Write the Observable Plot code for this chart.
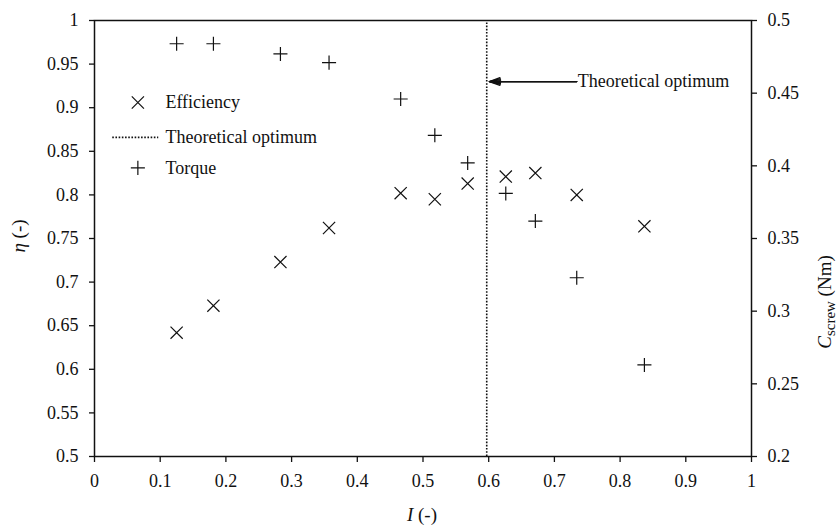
<!DOCTYPE html>
<html><head><meta charset="utf-8">
<script src="https://cdn.jsdelivr.net/npm/d3@7"></script>
<script src="https://cdn.jsdelivr.net/npm/@observablehq/plot@0.6"></script>
<style>body{margin:0;background:#fff}</style>
</head><body><div id="chart"></div>
<script>
// Data
const tipRatio   = [0.125, 0.181, 0.283, 0.357, 0.466, 0.518, 0.568, 0.626, 0.671, 0.734, 0.837];
const efficiency = [0.642, 0.673, 0.723, 0.762, 0.802, 0.795, 0.813, 0.821, 0.825, 0.800, 0.764];
const torque     = [0.484, 0.484, 0.477, 0.471, 0.446, 0.421, 0.402, 0.381, 0.362, 0.323, 0.263];
const optimumX = 0.597;

// Tick values
const xTicks = [0, 0.1, 0.2, 0.3, 0.4, 0.5, 0.6, 0.7, 0.8, 0.9, 1];
const etaTicks = [0.5, 0.55, 0.6, 0.65, 0.7, 0.75, 0.8, 0.85, 0.9, 0.95, 1];
const torqueTicks = [0.2, 0.25, 0.3, 0.35, 0.4, 0.45, 0.5];
const etaDomain = [0.5, 1];
const torqueDomain = [0.2, 0.5];

// Legend / annotation
const legendLabels = ["Efficiency", "Theoretical optimum", "Torque"];
const legendY = [0.906, 0.866, 0.831];
const legendSymbolX = 0.066, legendTextX = 0.108, legendLineX = [0.027, 0.097];
const annotation = {text: "Theoretical optimum", x1: 0.734, x2: 0.601, y: 0.930};
const arrowHeadAngles = [40, 30, 20, 10];

const toEta = c => etaDomain[0] + (c - torqueDomain[0]) / (torqueDomain[1] - torqueDomain[0]) * (etaDomain[1] - etaDomain[0]);
const fromEta = e => torqueDomain[0] + (e - etaDomain[0]) / (etaDomain[1] - etaDomain[0]) * (torqueDomain[1] - torqueDomain[0]);
const fmt = v => String(+v.toFixed(3));

const effData = tipRatio.map((x, i) => ({x, y: efficiency[i]}));
const torData = tipRatio.map((x, i) => ({x, y: toEta(torque[i])}));

const ink = "#111";
const font = "'Liberation Serif', 'Times New Roman', serif";

const plot = Plot.plot({
  width: 838, height: 528,
  marginLeft: 94, marginRight: 87, marginTop: 20, marginBottom: 72,
  style: {fontFamily: font, fontSize: "18px", color: ink, background: "#fff"},
  x: {domain: [0, 1]},
  y: {domain: etaDomain},
  marks: [
    Plot.ruleX([optimumX], {y1: etaDomain[0], y2: etaDomain[1], stroke: ink, strokeWidth: 1.6, strokeDasharray: "1.6,1.6"}),
    Plot.frame({stroke: ink, strokeWidth: 1.5}),
    Plot.axisX({ticks: xTicks, tickFormat: fmt, tickSize: 6, tickPadding: 12, label: null, strokeWidth: 1.3}),
    Plot.axisY({anchor: "left", ticks: etaTicks, tickFormat: fmt, tickSize: 5, tickPadding: 11, label: null, strokeWidth: 1.3}),
    Plot.axisY({anchor: "right", ticks: torqueTicks.map(toEta), tickFormat: d => fmt(fromEta(d)), tickSize: 5, tickPadding: 11, label: null, strokeWidth: 1.3}),
    Plot.dot(effData, {x: "x", y: "y", symbol: "times", r: 5.6, stroke: ink, strokeWidth: 1.2}),
    Plot.dot(torData, {x: "x", y: "y", symbol: "plus", r: 4.6, stroke: ink, strokeWidth: 1.2}),
    // legend
    Plot.dot([legendY[0]], {x: legendSymbolX, y: d => d, symbol: "times", r: 5.6, stroke: ink, strokeWidth: 1.2}),
    Plot.link([legendY[1]], {x1: legendLineX[0], x2: legendLineX[1], y1: d => d, y2: d => d, stroke: ink, strokeWidth: 1.6, strokeDasharray: "1.6,1.6"}),
    Plot.dot([legendY[2]], {x: legendSymbolX, y: d => d, symbol: "plus", r: 4.6, stroke: ink, strokeWidth: 1.2}),
    Plot.text(legendLabels, {x: legendTextX, y: (d, i) => legendY[i], text: d => d, textAnchor: "start", fill: ink, fontSize: 18}),
    // annotation arrow (several head angles overlaid to give a filled head)
    ...arrowHeadAngles.map(a => Plot.arrow([annotation], {x1: "x1", x2: "x2", y1: "y", y2: "y", stroke: ink, strokeWidth: 1.3, headLength: 13, headAngle: a, bend: 0})),
    Plot.text([annotation], {x: "x1", y: "y", text: "text", textAnchor: "start", dx: 1, fill: ink, fontSize: 18})
  ]
});

const svg = d3.select(plot);
// y-axis label (left)
const ly = svg.append("text").attr("transform", "translate(25,236) rotate(-90)")
  .attr("text-anchor", "middle").attr("fill", ink).style("font-family", font).style("font-size", "19px");
ly.append("tspan").attr("font-style", "italic").text("η");
ly.append("tspan").text(" (-)");
// y-axis label (right)
const ry = svg.append("text").attr("transform", "translate(831,302) rotate(-90)")
  .attr("text-anchor", "middle").attr("fill", ink).style("font-family", font).style("font-size", "19px");
ry.append("tspan").attr("font-style", "italic").text("C");
ry.append("tspan").attr("dy", 4).style("font-size", "15px").text("screw");
ry.append("tspan").attr("dy", -4).text(" (Nm)");
// x-axis label
const lx = svg.append("text").attr("x", 422).attr("y", 521)
  .attr("text-anchor", "middle").attr("fill", ink).style("font-family", font).style("font-size", "19px");
lx.append("tspan").attr("font-style", "italic").text("I");
lx.append("tspan").text(" (-)");

document.getElementById("chart").appendChild(plot);
</script>
</body></html>
